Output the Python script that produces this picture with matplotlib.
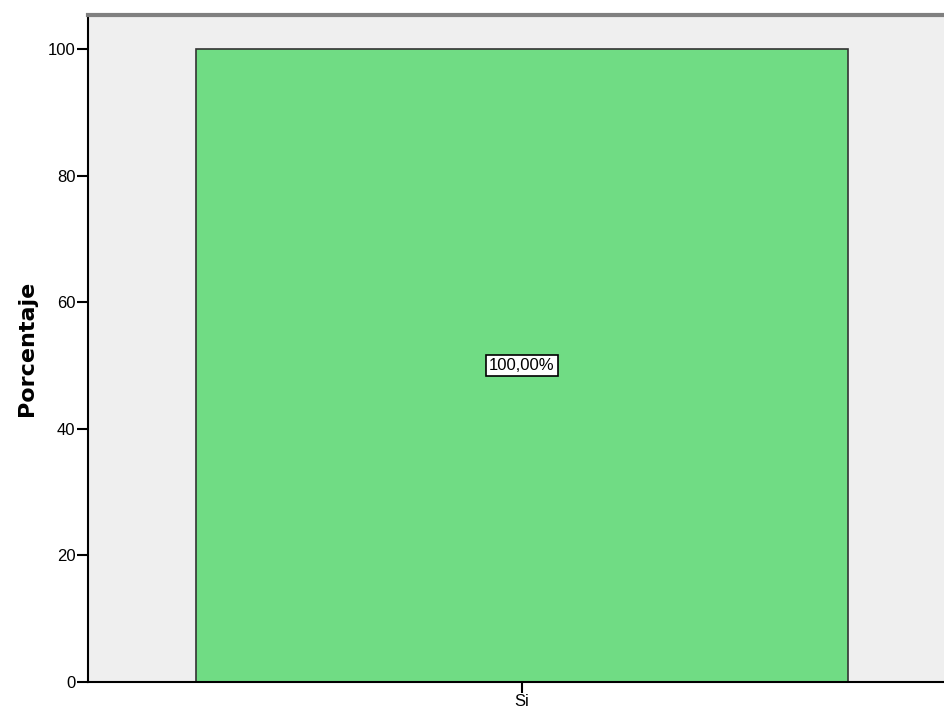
import matplotlib.pyplot as plt

categorias = ["Si"]
porcentajes = [100.0]
etiquetas = ["100,00%"]

plt.rcParams['font.family'] = ['Liberation Sans', 'DejaVu Sans']

fig = plt.figure(figsize=(9.45, 7.2), dpi=100)
ax = fig.add_axes([88 / 945, 1 - 682 / 720, 868 / 945, 667 / 720])
ax.set_facecolor("#EFEFEF")

x = list(range(len(categorias)))
ax.bar(x, porcentajes, width=1.0, color="#70DC84", edgecolor="#333333", linewidth=1.2)

for xi, v, t in zip(x, porcentajes, etiquetas):
    ax.text(xi, v / 2, t, ha="center", va="center", fontsize=12,
            bbox=dict(boxstyle="square,pad=0.2", facecolor="white", edgecolor="black", linewidth=1.2))

ax.set_xlim(-0.666, 0.666)
ax.set_ylim(0, 105.4)
ax.set_xticks(x)
ax.set_xticklabels(categorias, fontsize=12)
ax.set_yticks([0, 20, 40, 60, 80, 100])
ax.tick_params(axis="both", direction="out", length=8, width=1.5, labelsize=12, pad=1)
ax.set_ylabel("Porcentaje", fontsize=16, fontweight="bold", family="DejaVu Sans", labelpad=8)

ax.spines["left"].set_linewidth(1.5)
ax.spines["bottom"].set_linewidth(1.5)
ax.spines["top"].set_color("#808080")
ax.spines["top"].set_linewidth(3)
ax.spines["right"].set_visible(False)

fig.savefig("out.png", dpi=100)
